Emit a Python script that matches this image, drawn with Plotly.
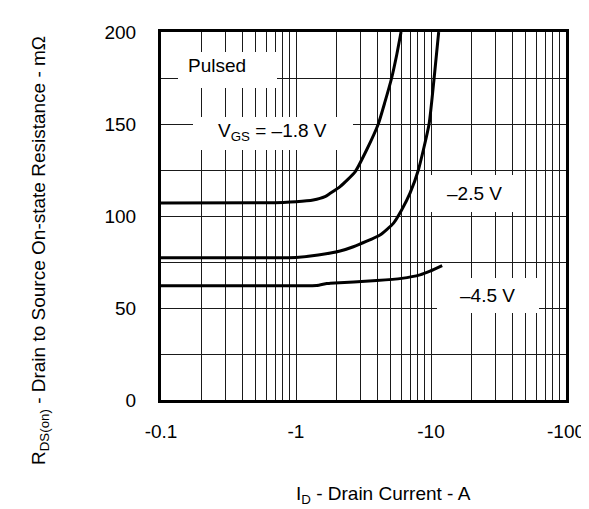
import plotly.graph_objects as go

# ---- data ----
id_18 = [0.1, 0.6, 1.0, 1.34, 1.64, 1.79, 2.12, 2.74, 3.34, 4.07, 4.56, 5.11, 5.57, 6.0]
r_18 = [107, 107.2, 107.8, 108.7, 110.5, 112.3, 116, 124, 136, 150, 162, 175, 187.5, 200]

id_25 = [0.1, 0.5, 1.0, 1.46, 2.12, 2.66, 4.19, 5.26, 6.06, 6.98, 8.06, 9.68, 10.55, 11.4]
r_25 = [77.3, 77.3, 77.5, 78.8, 81, 83.3, 89.7, 96, 103.3, 112.3, 125, 150, 175, 200]

id_45 = [0.1, 0.5, 1.0, 1.42, 1.69, 1.79, 3.96, 6.06, 8.29, 9.84, 12.1]
r_45 = [62.1, 62.1, 62.1, 62.2, 63.3, 63.4, 64.9, 66.1, 68, 70, 73]

x_major = [0.1, 1, 10, 100]
x_major_labels = ["-0.1", "-1", "-10", "-100"]
x_minor = [0.2, 0.3, 0.4, 0.5, 0.6, 0.7, 0.8, 0.9,
           2, 3, 4, 5, 6, 7, 8, 9,
           20, 30, 40, 50, 60, 70, 80, 90]
y_major = [0, 50, 100, 150, 200]
y_minor = [25, 75, 125, 175]

x_title = "I<sub>D</sub> - Drain Current - A"
y_title = "R<sub>DS(on)</sub> - Drain to Source On-state Resistance - mΩ"
labels = ["Pulsed", "V<sub>GS</sub> = –1.8 V", "–2.5 V", "–4.5 V"]

# ---- layout geometry (page body has an 8px margin) ----
OFF = 8
W, H = 589 - OFF, 509 - OFF
L, R, T, B = 161 - OFF, 23, 32 - OFF, 109
PW, PH = W - L - R, H - T - B
X0, Y1 = 161, 400  # plot-area left / bottom in reference pixels


def px(xp):
    return (xp - X0) / PW


def py(yp):
    return (Y1 - yp) / PH


FONT = "Liberation Sans, Arial, sans-serif"
GRID = "#1a1a1a"

fig = go.Figure()
for xs, ys in [(id_18, r_18), (id_25, r_25), (id_45, r_45)]:
    fig.add_trace(go.Scatter(x=xs, y=ys, mode="lines",
                             line=dict(color="black", width=3, shape="spline", smoothing=0.5),
                             showlegend=False, hoverinfo="skip"))

# white label boxes (cover grid lines); annotations are drawn above them
boxes = [(178, 277, 52, 88), (193, 353, 117, 150), (425, 520, 175, 212), (437, 539, 278, 313)]
for x0, x1, y0, y1 in boxes:
    fig.add_shape(type="rect", xref="paper", yref="paper",
                  x0=px(x0), x1=px(x1), y0=py(y1), y1=py(y0),
                  fillcolor="white", line=dict(width=0), layer="above")

centers = [(216.5, 65), (272, 132), (474, 193), (487.5, 295)]
for txt, (cx, cy) in zip(labels, centers):
    fig.add_annotation(text=txt, xref="paper", yref="paper", x=px(cx), y=py(cy),
                       xanchor="center", yanchor="middle", showarrow=False,
                       font=dict(size=19, color="black", family=FONT))

# axis titles
fig.add_annotation(text=x_title, xref="paper", yref="paper", x=px(383), y=py(495),
                   xanchor="center", yanchor="middle", showarrow=False,
                   font=dict(size=19, color="black", family=FONT))
fig.add_annotation(text=y_title, xref="paper", yref="paper", x=px(40), y=py(251),
                   xanchor="center", yanchor="middle", showarrow=False, textangle=-90,
                   font=dict(size=19, color="black", family=FONT))

fig.update_xaxes(type="log", range=[-1, 2], tickmode="array",
                 tickvals=x_major, ticktext=x_major_labels,
                 showgrid=True, gridcolor=GRID, gridwidth=1, ticks="",
                 minor=dict(tickmode="array", tickvals=x_minor, showgrid=True,
                            gridcolor=GRID, gridwidth=1, ticks=""),
                 showline=True, linecolor="black", linewidth=3, mirror=True,
                 ticklabelstandoff=12, zeroline=False,
                 tickfont=dict(size=19, color="black", family=FONT))
fig.update_yaxes(range=[0, 200], tickmode="array",
                 tickvals=y_major, ticktext=[str(v) for v in y_major],
                 showgrid=True, gridcolor=GRID, gridwidth=1, ticks="",
                 minor=dict(tickmode="array", tickvals=y_minor, showgrid=True,
                            gridcolor=GRID, gridwidth=1, ticks=""),
                 showline=True, linecolor="black", linewidth=3, mirror=True,
                 ticklabelstandoff=18, zeroline=False,
                 tickfont=dict(size=19, color="black", family=FONT))

fig.update_layout(width=W, height=H, margin=dict(l=L, r=R, t=T, b=B, autoexpand=False),
                  plot_bgcolor="white", paper_bgcolor="white",
                  font=dict(family=FONT, color="black"))

fig.write_html("out.html")
